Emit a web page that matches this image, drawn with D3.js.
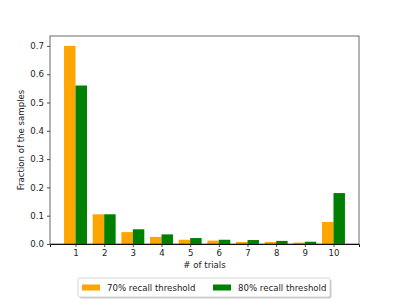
<!DOCTYPE html>
<html>
<head>
<meta charset="utf-8">
<script src="https://cdn.jsdelivr.net/npm/d3@7"></script>
<style>
body { margin: 0; background: white; }
text { font-family: "DejaVu Sans", sans-serif; }
</style>
</head>
<body>
<div id="chart"></div>
<script>
// data
const trials = [1, 2, 3, 4, 5, 6, 7, 8, 9, 10];
const recall70 = [0.70, 0.105, 0.042, 0.025, 0.015, 0.012, 0.007, 0.007, 0.005, 0.078];
const recall80 = [0.56, 0.105, 0.052, 0.034, 0.021, 0.015, 0.014, 0.011, 0.008, 0.18];
const yTicks = [0, 0.1, 0.2, 0.3, 0.4, 0.5, 0.6, 0.7];
const seriesNames = ['70% recall threshold', '80% recall threshold'];
const colors = ['orange', 'green'];

let width = 399;
let height = 299;
let margin = { top: 36, bottom: 55, left: 50, right: 40 };
let fontSize = 8.6;

let svg = d3.select('#chart')
            .append('svg')
            .attr('width', width)
            .attr('height', height);

let xScale = d3.scaleLinear()
               .domain([0.11, 10.89])
               .range([margin.left, width - margin.right]);
let yScale = d3.scaleLinear()
               .domain([0, 0.735])
               .range([height - margin.bottom, margin.top]);

let barW = xScale(0.4) - xScale(0);
let y0 = yScale(0);

// bars
[recall70, recall80].forEach((vals, s) => {
    svg.append('g')
       .selectAll('rect')
       .data(vals)
       .enter()
       .append('rect')
       .attr('x', (d, i) => s === 0 ? xScale(trials[i] - 0.4) : xScale(trials[i]))
       .attr('y', d => yScale(d))
       .attr('width', barW)
       .attr('height', d => y0 - yScale(d))
       .attr('fill', colors[s]);
});

// frame
svg.append('rect')
   .attr('x', margin.left)
   .attr('y', margin.top)
   .attr('width', width - margin.right - margin.left)
   .attr('height', y0 - margin.top)
   .attr('fill', 'none')
   .attr('stroke', '#444')
   .attr('stroke-width', 0.8);

// axes
let xAxis = svg.append('g')
               .attr('transform', `translate(0, ${y0})`)
               .call(d3.axisBottom(xScale).tickValues(trials).tickSize(3).tickPadding(3).tickFormat(d3.format('d')));
let yAxis = svg.append('g')
               .attr('transform', `translate(${margin.left}, 0)`)
               .call(d3.axisLeft(yScale).tickValues(yTicks).tickSize(3).tickPadding(3).tickFormat(d3.format('.1f')));
[xAxis, yAxis].forEach(ax => {
    ax.selectAll('text').style('font-size', fontSize + 'px').attr('fill', '#222');
    ax.selectAll('line').attr('stroke', '#222').attr('stroke-width', 0.8);
    ax.attr('font-family', null);
});
xAxis.select('.domain').attr('stroke', '#111').attr('stroke-width', 1);
yAxis.select('.domain').remove();

// axis labels
svg.append('text')
   .attr('x', (margin.left + width - margin.right) / 2)
   .attr('y', 268)
   .attr('text-anchor', 'middle')
   .style('font-size', fontSize + 'px')
   .attr('fill', '#222')
   .text('# of trials');
svg.append('text')
   .attr('transform', `translate(24, ${(margin.top + y0) / 2}) rotate(-90)`)
   .attr('text-anchor', 'middle')
   .style('font-size', fontSize + 'px')
   .attr('fill', '#222')
   .text('Fraction of the samples');

// legend
const legend = svg.append('g').attr('transform', 'translate(78, 278)');
legend.append('rect')
      .attr('x', 1.5).attr('y', 1.5)
      .attr('width', 252).attr('height', 19)
      .attr('rx', 2)
      .attr('fill', '#999').attr('opacity', 0.5);
legend.append('rect')
      .attr('width', 252).attr('height', 19)
      .attr('rx', 2)
      .attr('fill', 'white').attr('stroke', '#ccc').attr('stroke-width', 0.8);
const legendX = [4, 135];
seriesNames.forEach((name, i) => {
    legend.append('rect')
          .attr('x', legendX[i]).attr('y', 6.5)
          .attr('width', 18).attr('height', 6)
          .attr('fill', colors[i]);
    legend.append('text')
          .attr('x', legendX[i] + 25).attr('y', 12.8)
          .style('font-size', fontSize + 'px')
          .attr('fill', '#222')
          .text(name);
});
</script>
</body>
</html>
